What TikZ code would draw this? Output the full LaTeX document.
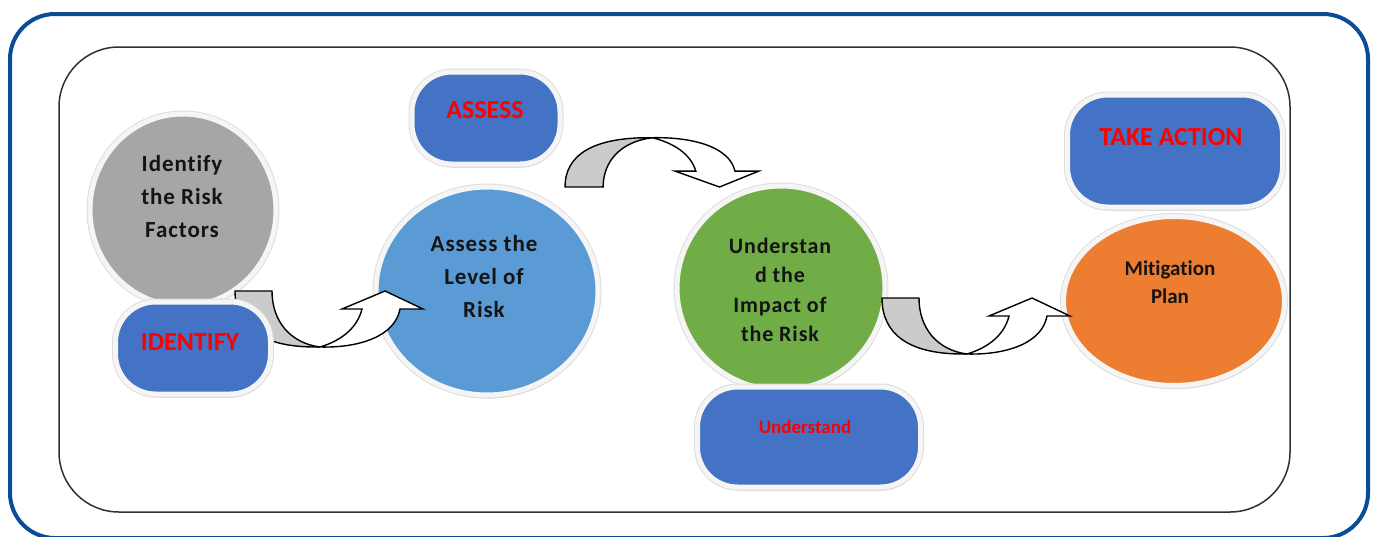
\documentclass[tikz,border=0pt]{standalone}
\usepackage{fontspec}
\setmainfont{Carlito}[Ligatures=NoCommon]
\newfontfamily\spacedfont{Carlito}[LetterSpace=4,Ligatures=NoCommon]
\usetikzlibrary{shapes.geometric,shadows}
\definecolor{frameblue}{HTML}{0A4D96}
\definecolor{boxblue}{HTML}{4472C4}
\definecolor{circgray}{HTML}{A6A6A6}
\definecolor{circblue}{HTML}{5B9BD5}
\definecolor{circgreen}{HTML}{70AD47}
\definecolor{circorange}{HTML}{ED7D31}
\definecolor{labelred}{HTML}{FF0000}
\definecolor{arrowgray}{HTML}{CBCBCB}
\definecolor{framedark}{HTML}{303030}
\begin{document}
\begin{tikzpicture}[x=1pt,y=-1pt,
  shade/.style={drop shadow={shadow xshift=1pt,shadow yshift=-3.5pt,opacity=0.35,fill=black!55}},
  halo/.style={preaction={draw=black!13,line width=7pt}, draw=white!96!black, line width=5pt},
  circ/.style={ellipse, inner sep=0pt, shade, halo},
  pill/.style={rectangle, rounded corners=40pt, inner sep=0pt, fill=boxblue, shade, halo},
  bodytext/.style={align=center, inner sep=0pt, text=black!92, font=\spacedfont\bfseries\fontsize{23}{33}\selectfont},
  redlabel/.style={inner sep=0pt, text=labelred, font=\bfseries\fontsize{26}{30}\selectfont},
  arrowback/.style={fill=arrowgray, draw=black, line width=1.4pt, line join=miter},
  arrowfront/.style={fill=white, draw=black, line width=1.4pt, line join=miter},
  carrow/.pic={
    \path[arrowback] (0,0) -- (37,0) .. controls (37,30) and (55,52) .. (85,56)
        .. controls (25,57) and (0,35) .. (0,0) -- cycle;
    \path[arrowfront] (85,56) .. controls (125,57) and (160,45) .. (165,18)
        -- (188,18) -- (150,0) -- (107,18) -- (127,18)
        .. controls (122,38) and (105,50) .. (85,56) -- cycle;
  }
]
\path[use as bounding box] (0,0) rectangle (1375,536);
% frames
\draw[frameblue, line width=4pt, rounded corners=45pt] (10,14) rectangle (1368,538);
\draw[framedark, line width=1.5pt, rounded corners=60pt] (59,47) rectangle (1290,512);

% circles
\node[circ, fill=circgray, minimum width=186pt, minimum height=192pt] (gcirc) at (183,210) {};
\node[circ, fill=circblue, minimum width=222pt, minimum height=208pt] (bcirc) at (487,291) {};
\node[circ, fill=circgreen, minimum width=208pt, minimum height=204pt] (ccirc) at (781,288) {};
\node[circ, fill=circorange, minimum width=221pt, minimum height=169pt] (ocirc) at (1174,301) {};

% curved block arrows
\pic at (235,291) {carrow};
\pic[xscale=1.03, yscale=-0.88] at (565,187) {carrow};
\pic at (882,298) {carrow};

% boxes
\node[pill, minimum width=155pt, minimum height=92pt] (identbox) at (193,348) {};
\node[pill, minimum width=148pt, minimum height=92pt] (assessbox) at (486,118) {};
\node[pill, minimum width=215pt, minimum height=112pt] (actionbox) at (1175,151) {};
\node[pill, minimum width=223pt, minimum height=100pt] (underbox) at (809,437) {};

% texts
\node[bodytext] (gtext) at (182,197) {Identify\\the Risk\\Factors};
\node[bodytext] (btext) at (484,277) {Assess the\\Level of\\Risk};
\node[bodytext, font=\spacedfont\bfseries\fontsize{22}{29.5}\selectfont] (ctext) at (780,290) {Understan\\d the\\Impact of\\the Risk};
\node[bodytext, font=\bfseries\fontsize{21}{28}\selectfont] (otext) at (1170,282) {Mitigation\\Plan};

\node[redlabel] (identtext) at (190,342) {IDENTIFY};
\node[redlabel] (assesstext) at (485,110) {ASSESS};
\node[redlabel] (actiontext) at (1171,137) {TAKE ACTION};
\node[redlabel, font=\bfseries\fontsize{19}{22}\selectfont] (undertext) at (805,427) {Understand};
\end{tikzpicture}
\end{document}
